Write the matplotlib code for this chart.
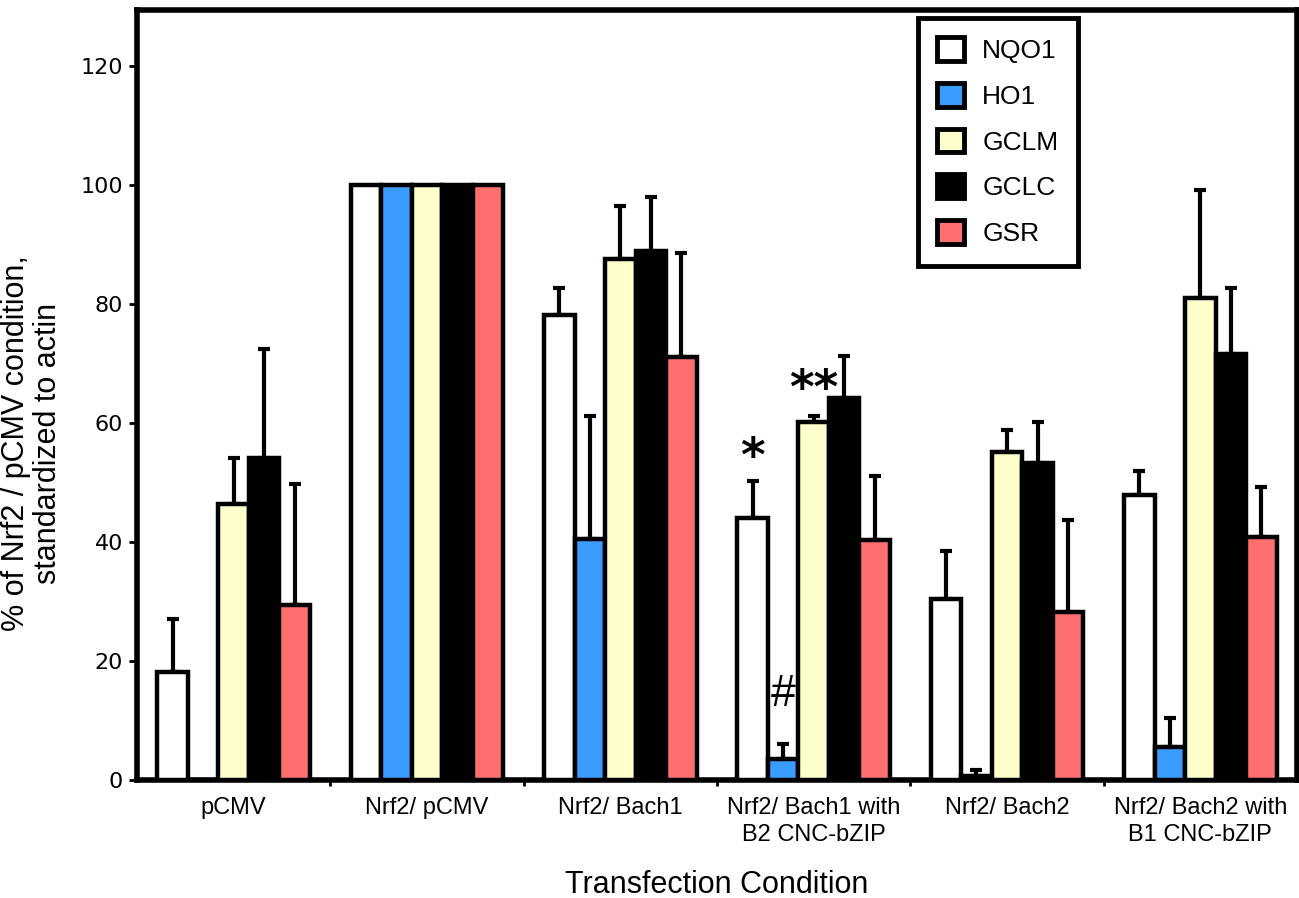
import numpy as np
import matplotlib
matplotlib.use("Agg")
import matplotlib.pyplot as plt
from matplotlib.patches import Patch

# groups on the x axis
conditions = ["pCMV", "Nrf2/ pCMV", "Nrf2/ Bach1", "Nrf2/ Bach1 with\nB2 CNC-bZIP",
              "Nrf2/ Bach2", "Nrf2/ Bach2 with\nB1 CNC-bZIP"]
genes = ["NQO1", "HO1", "GCLM", "GCLC", "GSR"]
colors = ["#ffffff", "#3b9cff", "#ffffcc", "#000000", "#ff6f6f"]

# mean values per gene, one per condition
nqo1 = [18.2, 100, 78.2, 44.0, 30.5, 48.0]
ho1 = [0.0, 100, 40.6, 3.5, 0.7, 5.5]
gclm = [46.5, 100, 87.7, 60.2, 55.2, 81.1]
gclc = [54.2, 100, 89.0, 64.3, 53.3, 71.6]
gsr = [29.4, 100, 71.2, 40.4, 28.3, 40.9]

# top of the upper error bar (nan = no error bar)
nqo1_top = [27.0, np.nan, 82.8, 50.3, 38.5, 51.9]
ho1_top = [np.nan, np.nan, 61.2, 6.0, 1.6, 10.5]
gclm_top = [54.1, np.nan, 96.5, 61.3, 58.9, 99.2]
gclc_top = [72.5, np.nan, 98.0, 71.3, 60.2, 82.8]
gsr_top = [49.7, np.nan, 88.6, 51.1, 43.8, 49.3]

means = [nqo1, ho1, gclm, gclc, gsr]
tops = [nqo1_top, ho1_top, gclm_top, gclc_top, gsr_top]

fig = plt.figure(figsize=(12.99, 8.98), dpi=100)
ax = fig.add_axes([137 / 1299, 118 / 898, 1160 / 1299, 770 / 898])

x = np.arange(len(conditions))
w = 0.158
for i, (g, c) in enumerate(zip(genes, colors)):
    pos = x + (i - 2) * w
    vals = np.array(means[i])
    err = np.array(tops[i]) - vals
    ax.bar(pos, vals, width=w, color=c, edgecolor="black", linewidth=3.2, zorder=3)
    ok = ~np.isnan(err)
    ax.errorbar(pos[ok], vals[ok], yerr=[np.zeros(ok.sum()), err[ok]], fmt="none",
                ecolor="black", elinewidth=3, capsize=4, capthick=3, zorder=2)

# significance marks on the "Bach1 with B2" group
ax.text(3 - 2 * w, 54.0, "*", ha="center", va="center", fontsize=34, fontweight="bold")
ax.text(3, 65.5, "**", ha="center", va="center", fontsize=34, fontweight="bold")
ax.text(3 - w, 14.3, "#", ha="center", va="center", fontsize=32,
        family="Liberation Sans")

ax.set_xlim(-0.5, 5.5)
ax.set_ylim(0, 129.5)
ax.set_yticks(np.arange(0, 121, 20))
ax.set_yticklabels([str(v) for v in range(0, 121, 20)], family="DejaVu Sans", fontsize=16)
ax.tick_params(axis="y", length=6, width=2, direction="out", pad=4)
ax.set_xticks(x)
ax.set_xticklabels(conditions, fontsize=17, family="Liberation Sans", linespacing=1.3)
ax.tick_params(axis="x", length=0, pad=12)
ax.set_xticks(np.arange(0.5, 5, 1), minor=True)
ax.tick_params(axis="x", which="minor", length=4, width=2)
for s in ax.spines.values():
    s.set_linewidth(4)

fig.text(717 / 1299, 1 - 893 / 898, "Transfection Condition", ha="center", va="baseline",
         fontsize=22, family="Liberation Sans")
fig.text(32 / 1299, 1 - 443 / 898, "% of Nrf2 / pCMV condition,\nstandardized to actin",
         rotation=90, ha="center", va="center", fontsize=22, family="Liberation Sans",
         linespacing=1.1)

handles = [Patch(facecolor=c, edgecolor="black", linewidth=3.5) for c in colors]
leg = ax.legend(handles, genes, loc="upper left", bbox_to_anchor=(0.673, 0.99),
                borderaxespad=0, prop={"family": "Liberation Sans", "size": 19},
                handlelength=1.0, handleheight=1.0, handletextpad=0.7,
                labelspacing=0.75, borderpad=0.75, fancybox=False, framealpha=1,
                edgecolor="black")
leg.get_frame().set_linewidth(3.5)

fig.savefig("out.png", dpi=100)
